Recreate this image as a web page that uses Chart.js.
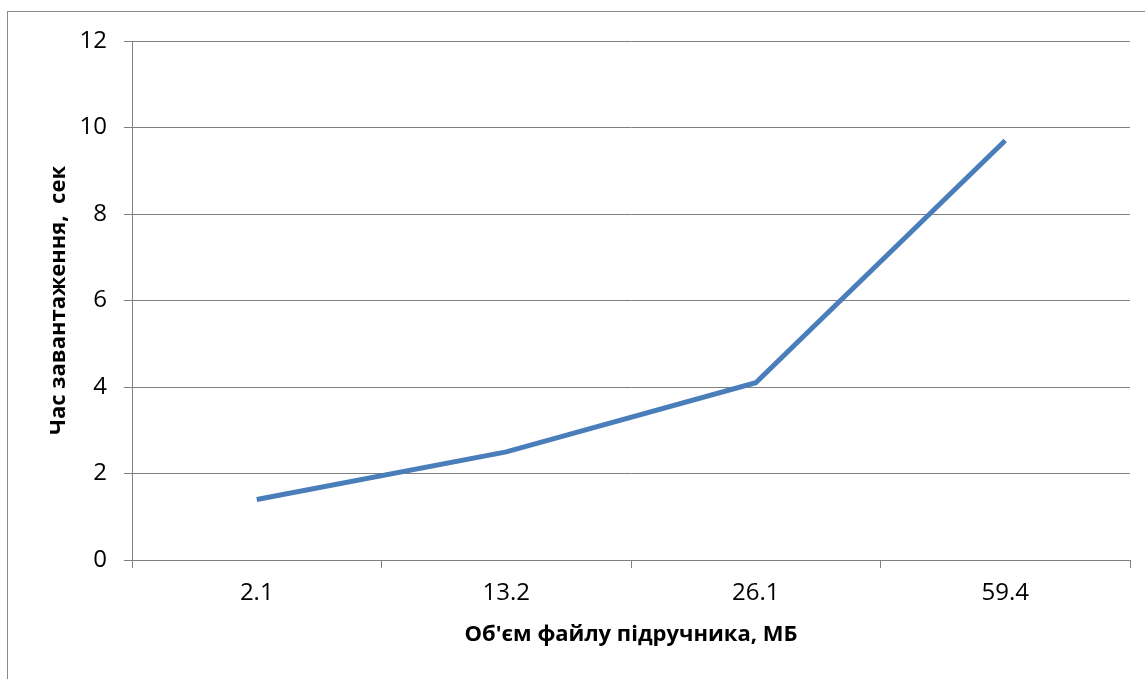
<!DOCTYPE html>
<html>
<head>
<meta charset="utf-8">
<script src="https://cdn.jsdelivr.net/npm/chart.js@4.4.1/dist/chart.umd.min.js"></script>
<style>
  html, body { margin: 0; padding: 0; background: #ffffff; }
  #wrap { position: relative; width: 1145px; height: 679px; overflow: hidden; }
  #frame { position: absolute; left: 7px; top: 11px; width: 1200px; height: 720px;
           border-left: 1px solid #8a8a8a; border-top: 1px solid #8a8a8a; box-sizing: border-box; }
  #c { position: absolute; left: 0; top: 0; }
</style>
</head>
<body>
<div id="wrap">
  <div id="frame"></div>
  <canvas id="c" width="1145" height="679"></canvas>
</div>
<script>
// File size of the textbook (MB) and its loading time (s)
const fileSizes = ['2.1', '13.2', '26.1', '59.4'];
const loadTimes = [1.4, 2.5, 4.1, 9.7];
const yTicks = [0, 2, 4, 6, 8, 10, 12];

const xTitle = "Об'єм файлу підручника, МБ";
const yTitle = 'Час завантаження,  сек';

const gridColor = '#808080';
const lineColor = '#4a7ebb';
const tickFont = { family: '"Open Sans", "Liberation Sans", sans-serif', size: 24 };
const titleFont = { family: '"Open Sans", "Liberation Sans", sans-serif', size: 22, weight: 'bold' };

new Chart(document.getElementById('c'), {
  type: 'line',
  data: {
    labels: fileSizes,
    datasets: [{
      data: loadTimes,
      borderColor: lineColor,
      borderWidth: 5,
      pointRadius: 0,
      tension: 0,
      fill: false
    }]
  },
  options: {
    responsive: false,
    animation: false,
    devicePixelRatio: 1,
    layout: { padding: { left: 0, right: 15, top: 41, bottom: 0 } },
    plugins: { legend: { display: false }, tooltip: { enabled: false } },
    scales: {
      x: {
        type: 'category',
        offset: true,
        afterFit: s => { s.height = 119; },
        grid: { offset: true, drawOnChartArea: false, drawTicks: true, tickLength: 8, color: gridColor, lineWidth: 1 },
        border: { display: true, color: gridColor, width: 1 },
        ticks: { color: '#000', font: tickFont, padding: 11, maxRotation: 0 },
        title: { display: true, text: xTitle, color: '#000', font: titleFont, padding: { top: 31, bottom: 31 } }
      },
      y: {
        min: 0,
        max: 12,
        afterFit: s => { s.width = 132; },
        afterBuildTicks: s => { s.ticks = yTicks.map(v => ({ value: v })); },
        grid: { drawOnChartArea: true, drawTicks: true, tickLength: 8, color: gridColor, lineWidth: 1 },
        border: { display: true, color: gridColor, width: 1 },
        ticks: { color: '#000', font: tickFont, padding: 17 },
        title: { display: true, text: yTitle, color: '#000', font: titleFont, padding: { top: 46, bottom: 46 } }
      }
    }
  }
});
</script>
</body>
</html>
